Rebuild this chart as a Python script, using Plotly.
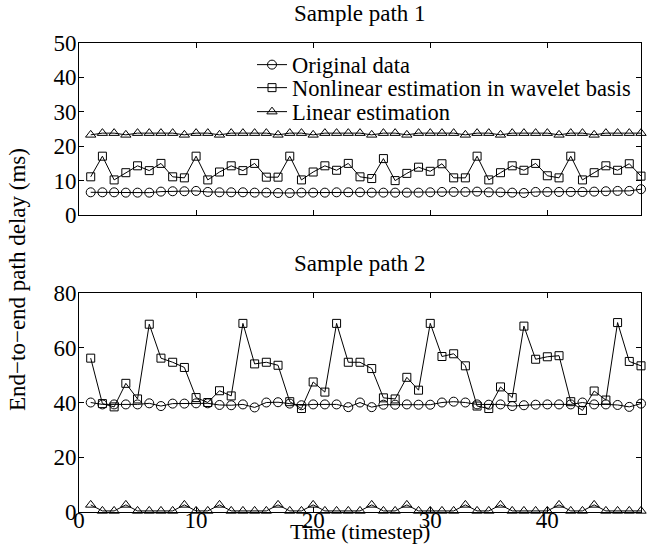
import plotly.graph_objects as go

t = list(range(1, 49))

# Sample path 1
orig1 = [6.6, 6.6, 6.6, 6.5, 6.5, 6.5, 6.8, 6.9, 6.9, 7.0, 6.7, 6.6, 6.6, 6.6, 6.5, 6.5,
         6.4, 6.4, 6.5, 6.5, 6.5, 6.6, 6.6, 6.6, 6.5, 6.5, 6.5, 6.5, 6.5, 6.6, 6.7, 6.7,
         6.7, 6.8, 6.6, 6.6, 6.5, 6.4, 6.7, 6.7, 6.7, 6.7, 6.7, 6.8, 6.9, 7.0, 7.0, 7.5]
nl1 = [11.1, 17.1, 10.2, 12.3, 14.3, 12.9, 15.0, 11.1, 10.8, 17.1, 10.2, 12.5, 14.3, 12.9,
       15.0, 11.0, 11.0, 17.1, 10.2, 12.5, 14.3, 13.0, 15.0, 11.1, 10.6, 16.4, 10.0, 12.1,
       13.9, 12.7, 14.9, 10.8, 10.8, 17.1, 10.2, 12.3, 14.3, 13.0, 15.0, 11.4, 10.8, 17.1,
       10.2, 12.3, 14.3, 13.0, 14.9, 11.3]
lin1 = [23.3, 23.8, 23.8, 23.3, 23.8, 23.8, 23.8, 23.8, 23.3, 23.8, 23.8, 23.3, 23.8, 23.8,
        23.8, 23.8, 23.3, 23.8, 23.8, 23.3, 23.8, 23.8, 23.8, 23.8, 23.3, 23.8, 23.8, 23.3,
        23.8, 23.8, 23.8, 23.8, 23.3, 23.8, 23.8, 23.3, 23.8, 23.8, 23.8, 23.8, 23.3, 23.8,
        23.8, 23.3, 23.8, 23.8, 23.8, 23.8]

# Sample path 2
orig2 = [40.0, 39.3, 39.3, 39.3, 39.3, 39.7, 38.7, 39.6, 39.6, 39.7, 39.7, 39.1, 39.0, 39.3,
         38.2, 40.0, 40.1, 39.6, 39.0, 39.3, 39.3, 39.3, 38.3, 40.0, 38.3, 39.2, 39.2, 39.3,
         39.2, 39.2, 40.0, 40.3, 40.0, 39.3, 39.2, 39.3, 38.7, 39.0, 39.2, 39.3, 39.3, 39.3,
         40.0, 39.3, 39.3, 39.1, 38.4, 39.6]
nl2 = [56.2, 39.6, 38.4, 47.0, 41.3, 68.6, 56.2, 54.7, 52.8, 41.8, 40.0, 44.3, 42.4, 68.9,
       54.1, 54.7, 53.6, 40.3, 37.8, 47.5, 43.8, 68.9, 54.7, 54.7, 52.4, 41.7, 41.3, 49.2,
       44.5, 68.9, 56.8, 57.8, 53.4, 38.7, 37.8, 45.7, 41.8, 67.9, 55.8, 56.7, 57.1, 40.3,
       37.1, 44.2, 40.9, 69.2, 55.0, 53.4]
lin2 = [2.6, 0.4, 0.4, 2.6, 0.4, 0.4, 0.4, 0.4, 2.6, 0.4, 0.4, 2.6, 0.4, 0.4, 0.4, 0.4,
        2.6, 0.4, 0.4, 2.6, 0.4, 0.4, 0.4, 0.4, 2.6, 0.4, 0.4, 2.6, 0.4, 0.4, 0.4, 0.4,
        2.6, 0.4, 0.4, 2.6, 0.4, 0.4, 0.4, 0.4, 2.6, 0.4, 0.4, 2.6, 0.4, 0.4, 0.4, 0.4]

names = ["Original data", "Nonlinear estimation in wavelet basis", "Linear estimation"]
x_ticks = [0, 10, 20, 30, 40]
y1_ticks = [0, 10, 20, 30, 40, 50]
y2_ticks = [0, 20, 40, 60, 80]

FONT = "Liberation Serif, Times New Roman, serif"
FS = 23
LFS = 22.5

W, H = 648, 545
ML, MR, MT, MB = 79, 7, 43, 33
plot_w = W - ML - MR
plot_h = H - MT - MB

def py(page_y):
    return (H - MB - page_y) / plot_h

def px(page_x):
    return (page_x - ML) / plot_w

fig = go.Figure()
symbols = ["circle-open", "square-open", "triangle-up-open"]
sizes = [9, 8, 9]
legend_ids = ["legend", "legend2", "legend3"]
for i, (ys, name) in enumerate(zip([orig1, nl1, lin1], names)):
    fig.add_trace(go.Scatter(x=t, y=ys, name=name, mode="lines+markers",
                             line=dict(color="black", width=1),
                             marker=dict(symbol=symbols[i], size=sizes[i], color="black",
                                         line=dict(width=1, color="black")),
                             xaxis="x", yaxis="y", cliponaxis=False,
                             legend=legend_ids[i]))
for i, ys in enumerate([orig2, nl2, lin2]):
    fig.add_trace(go.Scatter(x=t, y=ys, name=names[i], mode="lines+markers", showlegend=False,
                             line=dict(color="black", width=1),
                             marker=dict(symbol=symbols[i], size=sizes[i], color="black",
                                         line=dict(width=1, color="black")),
                             xaxis="x2", yaxis="y2", cliponaxis=False))

axis_common = dict(showline=True, linecolor="black", linewidth=1, mirror="ticks",
                   ticks="inside", ticklen=5, tickcolor="black", tickwidth=1,
                   showgrid=False, zeroline=False,
                   tickfont=dict(family=FONT, size=FS, color="black"))

top_dom = [py(215), 1.0]
bot_dom = [0.0, py(293)]

leg_common = dict(xanchor="left", yanchor="middle", bgcolor="rgba(0,0,0,0)",
                  borderwidth=0, font=dict(family=FONT, size=LFS, color="black"))
leg_x = px(252)

fig.update_layout(
    width=W, height=H,
    margin=dict(l=ML, r=MR, t=MT, b=MB),
    paper_bgcolor="white", plot_bgcolor="white",
    font=dict(family=FONT, size=FS, color="black"),
    xaxis=dict(domain=[0, 1], anchor="y", range=[0, 48], tickvals=x_ticks,
               showticklabels=False, **axis_common),
    yaxis=dict(domain=top_dom, anchor="x", range=[0, 50], tickvals=y1_ticks,
               ticklabelstandoff=-3, **axis_common),
    xaxis2=dict(domain=[0, 1], anchor="y2", range=[0, 48], tickvals=x_ticks,
                ticklabelstandoff=-13, **axis_common),
    yaxis2=dict(domain=bot_dom, anchor="x2", range=[0, 80], tickvals=y2_ticks,
                ticklabelstandoff=-3, **axis_common),
    legend=dict(x=leg_x, y=py(65), **leg_common),
    legend2=dict(x=leg_x, y=py(88), **leg_common),
    legend3=dict(x=leg_x, y=py(112), **leg_common),
    showlegend=True,
    annotations=[
        dict(text="Sample path 1", x=0.5, y=top_dom[1], xref="paper", yref="paper",
             xanchor="center", yanchor="bottom", yshift=15, showarrow=False,
             font=dict(family=FONT, size=FS)),
        dict(text="Sample path 2", x=0.5, y=bot_dom[1], xref="paper", yref="paper",
             xanchor="center", yanchor="bottom", yshift=15, showarrow=False,
             font=dict(family=FONT, size=FS)),
        dict(text="Time (timestep)", x=0.5, y=py(545), xref="paper", yref="paper",
             xanchor="center", yanchor="bottom", borderpad=0, showarrow=False,
             font=dict(family=FONT, size=22)),
        dict(text="End\u2212to\u2212end path delay (ms)", x=px(17),
             y=py(280), xref="paper", yref="paper", xanchor="center", yanchor="middle",
             textangle=-90, showarrow=False, font=dict(family=FONT, size=FS)),
    ],
)

# remove the browser's default 8px page margin so the figure fills the window exactly
fig.write_html("out.html", config={"displayModeBar": False},
               post_script="document.body.style.margin='0px';")
